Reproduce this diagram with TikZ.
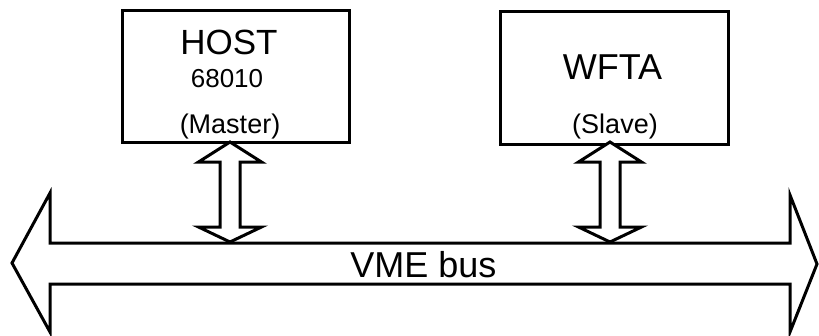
\documentclass[tikz,border=0pt]{standalone}
\usepackage{fontspec}
\setmainfont{Liberation Sans}
\begin{document}
\begin{tikzpicture}[x=1pt,y=-1pt,line join=miter,
  unitbox/.style={draw,line width=3pt,minimum width=227pt,inner sep=0pt,anchor=north west},
  fatarrow/.style={draw,line width=3pt,fill=white},
  bigtxt/.style={font=\fontsize{35}{35}\selectfont,inner sep=0pt},
  midtxt/.style={font=\fontsize{27}{27}\selectfont,inner sep=0pt}]
\useasboundingbox (0,0) rectangle (819,335);
% boxes
\node[unitbox,minimum height=132pt] (host) at (121,9) {};
\node[unitbox,minimum height=133pt,minimum width=228pt] (wfta) at (499,10) {};
% texts
\node[bigtxt] (hostt) at (229,42) {HOST};
\node[font=\fontsize{26}{26}\selectfont,inner sep=0pt] (cpu) at (227,78.5) {68010};
\node[midtxt] (master) at (230,127) {(Master)};
\node[font=\fontsize{36}{36}\selectfont,inner sep=0pt] (wftat) at (612.5,67.5) {WFTA};
\node[midtxt] (slave) at (615,126.5) {(Slave)};
% bus
\draw[fatarrow] (12,263) -- (50,193) -- (50,243) -- (790,243) -- (790,195)
  -- (817,264) -- (790,332) -- (790,284) -- (50,284) -- (50,332) -- cycle;
\node[font=\fontsize{36}{36}\selectfont,inner sep=0pt] (bus) at (423.5,264.5) {VME bus};
% small double arrows
\foreach \cx/\nm in {230/ha,610/wa}{
  \draw[fatarrow] (\cx,142) -- (\cx+31.5,162) -- (\cx+10,162) -- (\cx+10,227)
    -- (\cx+31.5,227) -- (\cx,242) -- (\cx-31.5,227) -- (\cx-10,227)
    -- (\cx-10,162) -- (\cx-31.5,162) -- cycle;
}
\end{tikzpicture}
\end{document}
